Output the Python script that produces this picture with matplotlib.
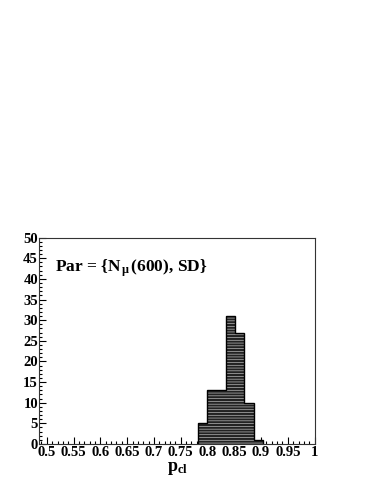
import matplotlib
matplotlib.use("Agg")
import matplotlib.pyplot as plt
from matplotlib.ticker import MultipleLocator
import numpy as np

# Data
bin_edges = [0.7828, 0.8000, 0.8172, 0.8344, 0.8516, 0.8688, 0.8860, 0.9032]
counts = [5, 13, 13, 31, 27, 10, 1]
x_ticks = [0.5, 0.55, 0.6, 0.65, 0.7, 0.75, 0.8, 0.85, 0.9, 0.95, 1.0]
x_tick_labels = ["0.5", "0.55", "0.6", "0.65", "0.7", "0.75", "0.8", "0.85", "0.9", "0.95", "1"]
y_ticks = [0, 5, 10, 15, 20, 25, 30, 35, 40, 45, 50]

plt.rcParams['mathtext.fontset'] = 'custom'
plt.rcParams['mathtext.rm'] = 'Liberation Serif:bold'
plt.rcParams['mathtext.it'] = 'Liberation Serif:bold'
plt.rcParams['mathtext.bf'] = 'Liberation Serif:bold'
plt.rcParams['hatch.linewidth'] = 0.45

fig = plt.figure(figsize=(3.71, 4.80), dpi=100)
ax = fig.add_axes([0.106, 0.075, 0.742, 0.430])

edges = np.array(bin_edges)
widths = np.diff(edges)
ax.bar(edges[:-1], counts, width=widths, align='edge', color='#222222',
       edgecolor='#c8c8c8', hatch='------', linewidth=0, zorder=2)
ax.stairs(counts, edges, color='black', linewidth=1.0, zorder=3)

ax.set_xlim(0.486, 1.0)
ax.set_ylim(0, 50)

ax.set_xticks(x_ticks)
ax.set_xticklabels(x_tick_labels)
ax.set_yticks(y_ticks)
ax.xaxis.set_minor_locator(MultipleLocator(0.01))
ax.yaxis.set_minor_locator(MultipleLocator(1))

for lab in ax.get_xticklabels() + ax.get_yticklabels():
    lab.set_fontfamily('Liberation Serif')
    lab.set_fontweight('bold')
    lab.set_fontsize(10.5)

ax.tick_params(axis='both', which='major', direction='in', length=5, width=0.8,
               top=False, right=False)
ax.tick_params(axis='both', which='minor', direction='in', length=2.5, width=0.8,
               top=False, right=False)
ax.tick_params(axis='x', which='major', pad=1.5)
ax.tick_params(axis='y', which='major', pad=1)

for s in ax.spines.values():
    s.set_linewidth(0.8)
    s.set_color('#333333')

ax.text(0.057, 0.852, r'Par = {N$_{\,μ\,}$(600), SD}', transform=ax.transAxes,
        fontfamily='Liberation Serif', fontweight='bold', fontsize=12.5,
        va='center', ha='left')

fig.text(0.450, 0.018, r'p$_{\mathrm{cl}}$', fontfamily='Liberation Serif',
         fontweight='bold', fontsize=13, ha='left', va='baseline')

fig.savefig('out.png', dpi=100)
